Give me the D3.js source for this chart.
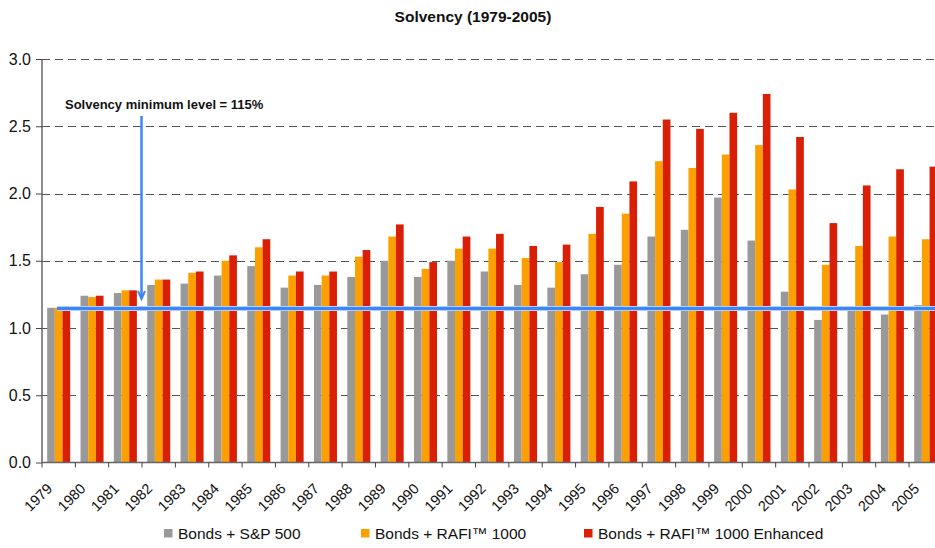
<!DOCTYPE html>
<html>
<head>
<meta charset="utf-8">
<script src="https://cdn.jsdelivr.net/npm/d3@7"></script>
<style>
  html, body { margin: 0; padding: 0; background: #fff; }
  svg { display: block; font-family: "Liberation Sans", Arial, Helvetica, sans-serif; }
</style>
</head>
<body>
<svg id="chart" width="935" height="548"></svg>
<script>
const years = ["1979","1980","1981","1982","1983","1984","1985","1986","1987","1988","1989","1990","1991","1992","1993","1994","1995","1996","1997","1998","1999","2000","2001","2002","2003","2004","2005"];
const sp500 = [1.15,1.24,1.26,1.32,1.33,1.39,1.46,1.30,1.32,1.38,1.50,1.38,1.50,1.42,1.32,1.30,1.40,1.47,1.68,1.73,1.97,1.65,1.27,1.06,1.14,1.10,1.17];
const rafi = [1.15,1.23,1.28,1.36,1.41,1.50,1.60,1.39,1.39,1.53,1.68,1.44,1.59,1.59,1.52,1.49,1.70,1.85,2.24,2.19,2.29,2.36,2.03,1.47,1.61,1.68,1.66];
const rafiEnh = [1.14,1.24,1.28,1.36,1.42,1.54,1.66,1.42,1.42,1.58,1.77,1.49,1.68,1.70,1.61,1.62,1.90,2.09,2.55,2.48,2.60,2.74,2.42,1.78,2.06,2.18,2.20];
const seriesNames = ["Bonds + S&P 500", "Bonds + RAFI\u2122 1000", "Bonds + RAFI\u2122 1000 Enhanced"];
const seriesColors = ["#999999", "#fba000", "#d91f05"];
const yTicks = [0, 0.5, 1.0, 1.5, 2.0, 2.5, 3.0];
const solvencyMin = 1.145;
const titleText = "Solvency (1979-2005)";
const annotationText = "Solvency minimum level = 115%";

(function () {
const svg = d3.select("#chart");
const mLeft = 42, mRight = 942.4, mTop = 59, mBottom = 462.5;

const x = d3.scaleBand().domain(years).range([mLeft, mRight]).paddingInner(0.31).paddingOuter(0.155);
const xs = d3.scaleBand().domain([0,1,2]).range([0, x.bandwidth()]);
const y = d3.scaleLinear().domain([0, 3]).range([mBottom, mTop]);

// gridlines
svg.append("g").selectAll("line").data(yTicks.filter(d => d > 0)).join("line")
  .attr("x1", mLeft).attr("x2", 935)
  .attr("y1", d => Math.round(y(d)) + 0.5).attr("y2", d => Math.round(y(d)) + 0.5)
  .attr("stroke", "#555").attr("stroke-width", 1).attr("stroke-dasharray", "8,5");

// bars
const data = [sp500, rafi, rafiEnh];
const gBars = svg.append("g");
data.forEach((vals, si) => {
  gBars.append("g").selectAll("rect").data(vals).join("rect")
    .attr("x", (d, i) => x(years[i]) + xs(si))
    .attr("y", d => y(d))
    .attr("width", xs.bandwidth())
    .attr("height", d => y(0) - y(d))
    .attr("fill", seriesColors[si]);
});

// y axis
const yAxis = d3.axisLeft(y).tickValues(yTicks).tickFormat(d3.format(".1f")).tickSize(6).tickPadding(5);
const gy = svg.append("g").attr("transform", `translate(${mLeft},0)`).call(yAxis);
gy.select(".domain").attr("stroke", "#666").attr("stroke-width", 1.5).attr("d", `M0,${mTop}V${mBottom}`);
gy.selectAll(".tick line").attr("stroke", "#444");
gy.selectAll(".tick text").attr("font-size", "16px").attr("fill", "#111").attr("font-family", "Liberation Sans, Arial, sans-serif");

// x axis baseline & ticks at category boundaries
const step = x.step();
const boundaries = d3.range(years.length + 1).map(i => mLeft + i * step);
svg.append("line").attr("x1", mLeft).attr("x2", 935).attr("y1", mBottom).attr("y2", mBottom)
  .attr("stroke", "#666").attr("stroke-width", 1.5);
svg.append("g").selectAll("line").data(boundaries).join("line")
  .attr("x1", d => d).attr("x2", d => d).attr("y1", mBottom).attr("y2", mBottom + 5)
  .attr("stroke", "#444").attr("stroke-width", 1);

// x labels
svg.append("g").selectAll("text").data(years).join("text")
  .attr("transform", d => `translate(${x(d) + x.bandwidth() / 2 - 5.5},${mBottom + 27}) rotate(-45)`)
  .attr("text-anchor", "end")
  .attr("font-size", "14.5px").attr("fill", "#111")
  .text(d => d);

// solvency minimum line
svg.append("line").attr("x1", 57).attr("x2", 935).attr("y1", y(solvencyMin)).attr("y2", y(solvencyMin))
  .attr("stroke", "#dbe8ff").attr("stroke-width", 5);
svg.append("line").attr("x1", 57).attr("x2", 935).attr("y1", y(solvencyMin)).attr("y2", y(solvencyMin))
  .attr("stroke", "#3c86f7").attr("stroke-width", 3.5);

// arrow
const ax = 141.5;
svg.append("line").attr("x1", ax).attr("x2", ax).attr("y1", 116).attr("y2", 298)
  .attr("stroke", "#3c86f7").attr("stroke-width", 2.5);
svg.append("path").attr("d", `M${ax - 3.5},${291} L${ax},${299} L${ax + 3.5},${291}`)
  .attr("fill", "none").attr("stroke", "#3c86f7").attr("stroke-width", 2);

// annotation
svg.append("text").attr("x", 65).attr("y", 109).attr("font-size", "13px").attr("font-weight", "bold")
  .attr("fill", "#111").text(annotationText);

// title
svg.append("text").attr("x", 473).attr("y", 22).attr("text-anchor", "middle")
  .attr("font-size", "15.5px").attr("font-weight", "bold").attr("fill", "#111").text(titleText);

// legend
const legendX = [164, 361, 584];
const lg = svg.append("g");
seriesNames.forEach((name, i) => {
  lg.append("rect").attr("x", legendX[i]).attr("y", 529).attr("width", 8.5).attr("height", 8.5).attr("fill", seriesColors[i]);
  lg.append("text").attr("x", legendX[i] + 14).attr("y", 539).attr("font-size", "15.5px").attr("fill", "#111").text(name);
});
})();
</script>
</body>
</html>
